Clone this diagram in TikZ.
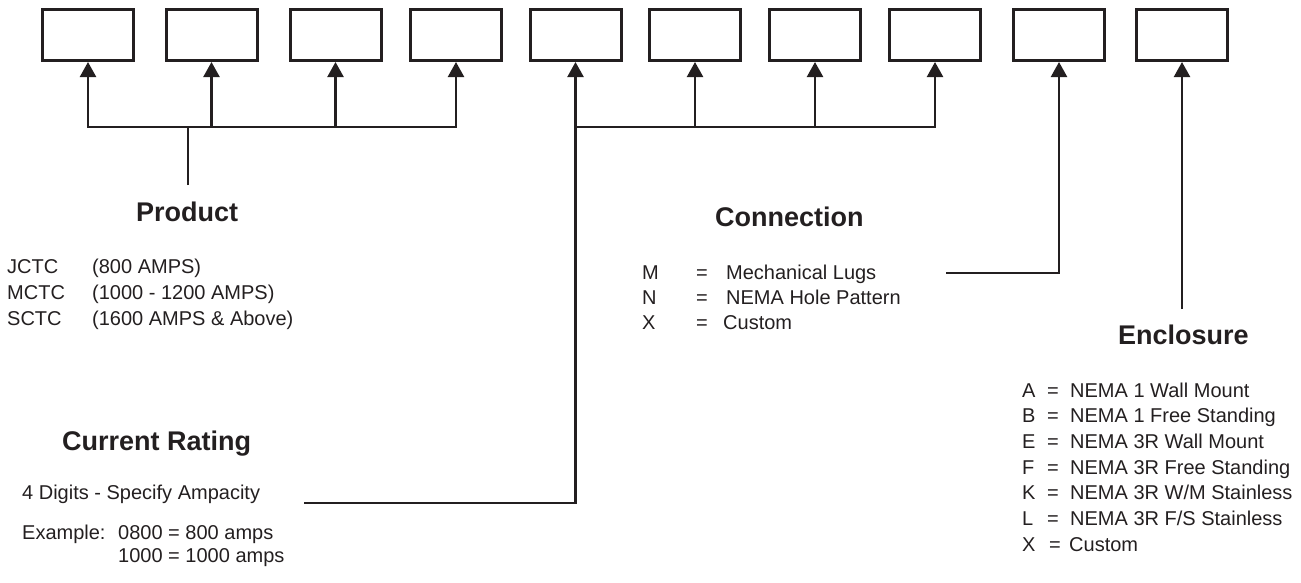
\documentclass[tikz,border=0pt]{standalone}
\usepackage{fontspec}
\setmainfont{Liberation Sans}
\usetikzlibrary{arrows.meta}
\definecolor{ink}{RGB}{35,31,32}
\begin{document}
\begin{tikzpicture}[x=1pt,y=-1pt,
  box/.style={draw=ink,line width=3pt,minimum width=91pt,minimum height=51pt,inner sep=0pt},
  conn/.style={draw=ink,line width=2.3pt},
  arr/.style={conn,-{Triangle[width=16pt,length=15pt]}},
  head/.style={anchor=base west,inner sep=0pt,font=\fontsize{27}{30}\selectfont\bfseries,text=ink},
  body/.style={anchor=base west,inner sep=0pt,font=\fontsize{20}{24}\selectfont,text=ink}]
\useasboundingbox (0,0) rectangle (1301,582);
% boxes
\node[box] (b1) at (88,35) {};
\node[box] (b2) at (211.5,35) {};
\node[box] (b3) at (335.5,35) {};
\node[box] (b4) at (456,35) {};
\node[box] (b5) at (575.5,35) {};
\node[box] (b6) at (695,35) {};
\node[box] (b7) at (815,35) {};
\node[box] (b8) at (935,35) {};
\node[box] (b9) at (1059,35) {};
\node[box] (b10) at (1182,35) {};
% product bus
\coordinate (j1) at (88,127);
\coordinate (j2) at (211.5,127);
\coordinate (j3) at (335.5,127);
\coordinate (j4) at (456,127);
\coordinate (pj) at (188,127);
\coordinate (pd) at (188,185);
\draw[arr] (j2) -- (j1) -- (b1);
\draw[arr] (j3) -- (j4) -- (b4);
\draw[conn] (j2) -- (j3);
\draw[arr] (j2) -- (b2);
\draw[arr] (j3) -- (b3);
\draw[conn] (pd) -- (pj);
% current rating
\coordinate (crL) at (304,503);
\coordinate (crR) at (575.5,503);
\draw[arr] (crL) -- (crR) -- (b5);
% connection bus
\coordinate (c5) at (575.5,127);
\coordinate (c6) at (695,127);
\coordinate (c7) at (815,127);
\coordinate (c8) at (935,127);
\draw[conn] (c5) -- (c7);
\draw[arr] (c7) -- (c8) -- (b8);
\draw[arr] (c6) -- (b6);
\draw[arr] (c7) -- (b7);
% connection -> box 9
\coordinate (mL) at (946,273);
\coordinate (mR) at (1059,273);
\draw[arr] (mL) -- (mR) -- (b9);
% enclosure -> box 10
\coordinate (eB) at (1182,309);
\draw[arr] (eB) -- (b10);
% Product
\node[head] (ph) at (136,221) {Product};
\node[body] (p1a) at (7,273) {JCTC};
\node[body] (p1b) at (92,273) {(800 AMPS)};
\node[body] (p2a) at (7,299) {MCTC};
\node[body] (p2b) at (92,299) {(1000 - 1200 AMPS)};
\node[body] (p3a) at (7,325) {SCTC};
\node[body] (p3b) at (92,325) {(1600 AMPS \& Above)};
% Current rating
\node[head] (ch) at (62,450) {Current Rating};
\node[body] (c1) at (22,499) {4 Digits - Specify Ampacity};
\node[body] (c2) at (22,539) {Example:};
\node[body] (c3) at (118,539) {0800 = 800 amps};
\node[body] (c4) at (118,562) {1000 = 1000 amps};
% Connection
\node[head] (nh) at (715,226) {Connection};
\node[body] (n1a) at (642,279) {M};
\node[body] (n1b) at (696,279) {=};
\node[body] (n1c) at (726,279) {Mechanical Lugs};
\node[body] (n2a) at (642,304) {N};
\node[body] (n2b) at (696,304) {=};
\node[body] (n2c) at (726,304) {NEMA Hole Pattern};
\node[body] (n3a) at (642,329) {X};
\node[body] (n3b) at (696,329) {=};
\node[body] (n3c) at (723,329) {Custom};
% Enclosure
\node[head] (eh) at (1118,344) {Enclosure};
\node[body] (ea1) at (1022,397) {A};
\node[body] (eq1) at (1047,397) {=};
\node[body] (et1) at (1070,397) {NEMA 1 Wall Mount};
\node[body] (ea2) at (1022,422) {B};
\node[body] (eq2) at (1047,422) {=};
\node[body] (et2) at (1070,422) {NEMA 1 Free Standing};
\node[body] (ea3) at (1022,448) {E};
\node[body] (eq3) at (1047,448) {=};
\node[body] (et3) at (1070,448) {NEMA 3R Wall Mount};
\node[body] (ea4) at (1022,474) {F};
\node[body] (eq4) at (1047,474) {=};
\node[body] (et4) at (1070,474) {NEMA 3R Free Standing};
\node[body] (ea5) at (1022,499) {K};
\node[body] (eq5) at (1047,499) {=};
\node[body] (et5) at (1070,499) {NEMA 3R W/M Stainless};
\node[body] (ea6) at (1022,525) {L};
\node[body] (eq6) at (1047,525) {=};
\node[body] (et6) at (1070,525) {NEMA 3R F/S Stainless};
\node[body] (ea7) at (1022,551) {X};
\node[body] (eq7) at (1049,551) {=};
\node[body] (et7) at (1069,551) {Custom};
\end{tikzpicture}
\end{document}
